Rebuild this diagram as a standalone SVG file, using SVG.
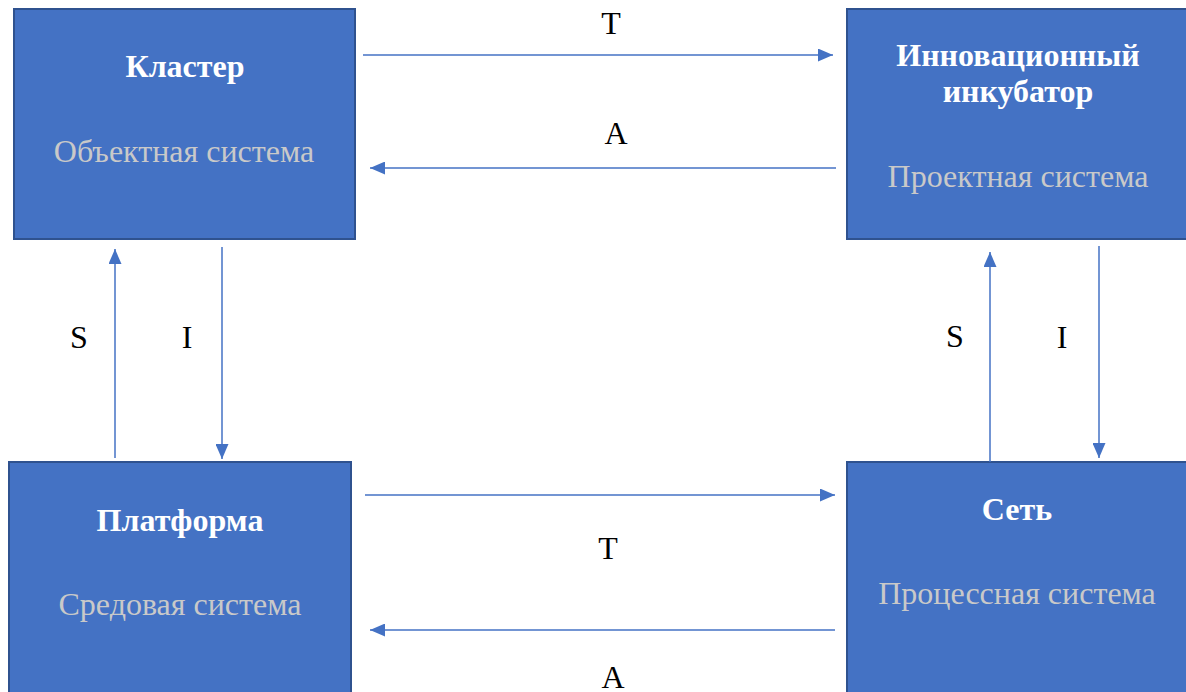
<svg xmlns="http://www.w3.org/2000/svg" width="1186" height="692" viewBox="0 0 1186 692">
<style>
.box{fill:#4472C4;stroke:#2F528F;stroke-width:2}
.t{font-weight:bold;font-size:32px;fill:#FFFFFF;text-anchor:middle}
.s{font-size:32px;fill:#C9C9C9;text-anchor:middle}
.l{font-size:32px;fill:#000000;text-anchor:middle}
.c{stroke:#4472C4;stroke-width:1.5;fill:none;marker-end:url(#ah)}
</style>
<defs>
<marker id="ah" viewBox="0 0 10 10" refX="10" refY="5" markerWidth="15" markerHeight="13" markerUnits="userSpaceOnUse" orient="auto" preserveAspectRatio="none">
<path d="M0,0 L10,5 L0,10 Z" fill="#4472C4"/>
</marker>
</defs>
<rect width="1186" height="692" fill="#FFFFFF"/>
<g font-family="'Liberation Serif', 'DejaVu Serif', serif">
<g id="cluster">
<rect class="box" x="14" y="9" width="341" height="230"/>
<text class="t" x="185" y="77">Кластер</text>
<text class="s" x="184" y="162">Объектная система</text>
</g>
<g id="incubator">
<rect class="box" x="847" y="9" width="345" height="230"/>
<text class="t" x="1018" y="66">Инновационный</text>
<text class="t" x="1018" y="102">инкубатор</text>
<text class="s" x="1018" y="187">Проектная система</text>
</g>
<g id="platform">
<rect class="box" x="9" y="462" width="342" height="240"/>
<text class="t" x="180" y="531">Платформа</text>
<text class="s" x="180" y="615">Средовая система</text>
</g>
<g id="network">
<rect class="box" x="847" y="462" width="345" height="240"/>
<text class="t" x="1017" y="520">Сеть</text>
<text class="s" x="1017" y="604">Процессная система</text>
</g>
<g id="connectors">
<line class="c" x1="363" y1="55" x2="833" y2="55"/>
<line class="c" x1="836" y1="168" x2="370" y2="168"/>
<line class="c" x1="365" y1="495" x2="835" y2="495"/>
<line class="c" x1="835" y1="630" x2="370" y2="630"/>
<line class="c" x1="115" y1="458" x2="115" y2="249"/>
<line class="c" x1="222" y1="247" x2="222" y2="459"/>
<line class="c" x1="990" y1="462" x2="990" y2="252"/>
<line class="c" x1="1099" y1="246" x2="1099" y2="458"/>
<text class="l" x="611" y="34">T</text>
<text class="l" x="616" y="144">A</text>
<text class="l" x="608" y="559">T</text>
<text class="l" x="613" y="688">A</text>
<text class="l" x="79" y="348">S</text>
<text class="l" x="187" y="348">I</text>
<text class="l" x="955" y="347">S</text>
<text class="l" x="1062" y="348">I</text>
</g>
</g>
</svg>
